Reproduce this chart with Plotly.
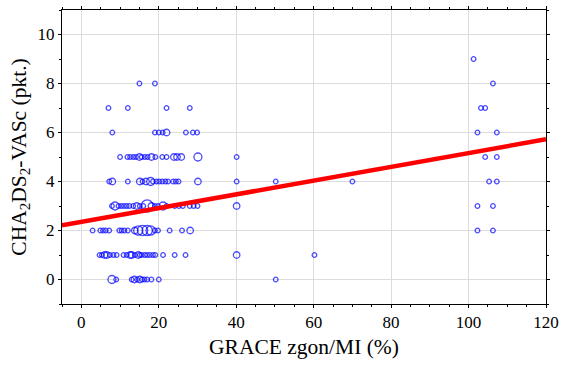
import plotly.graph_objects as go

# GRACE in-hospital death / MI risk (%) vs. CHA2DS2-VASc score, bubble size = number of patients
row0_x = [7.9, 9.0, 13.0, 13.7, 14.4, 15.1, 15.7, 16.3, 17.0, 18.1, 20.0, 50.2]
row0_n = [3, 1, 1, 2, 1, 2, 1, 1, 1, 1, 1, 1]

row1_x = [4.7, 5.3, 6.0, 6.6, 7.4, 8.3, 9.1, 10.9, 11.7, 12.6, 13.0, 13.8, 14.7, 15.1,
          15.6, 16.4, 17.0, 17.7, 18.5, 19.1, 21.1, 24.1, 26.9, 40.1, 60.2]
row1_n = [1, 1, 2, 2, 1, 1, 1, 1, 1, 2, 2, 1, 2, 1,
          1, 1, 1, 1, 1, 1, 1, 1, 1, 2, 1]

row2_x = [2.9, 4.9, 5.6, 6.3, 7.2, 9.8, 10.4, 11.1, 12.0, 13.8, 14.7, 15.8, 17.0, 17.9,
          19.0, 19.8, 22.8, 26.0, 28.1, 102.3, 106.3]
row2_n = [1, 1, 1, 1, 1, 1, 1, 1, 1, 2, 4, 5, 5, 4,
          1, 1, 1, 1, 2, 1, 1]

row3_x = [7.9, 8.7, 9.6, 10.3, 11.0, 11.7, 12.4, 13.4, 14.3, 15.1, 16.0, 17.0, 18.1, 19.0,
          19.8, 21.1, 22.0, 24.1, 25.2, 26.2, 28.0, 29.0, 30.0, 40.1, 102.3, 106.3]
row3_n = [1, 3, 1, 1, 1, 1, 1, 1, 2, 1, 1, 7, 2, 1,
          1, 3, 1, 1, 1, 1, 1, 1, 1, 2, 1, 1]

row4_x = [7.2, 8.0, 12.0, 15.1, 15.8, 16.7, 17.9, 18.5, 19.4, 20.1, 20.9, 21.7, 22.4, 23.7,
          24.4, 25.1, 30.1, 40.1, 50.2, 70.0, 105.3, 107.3]
row4_n = [1, 2, 1, 2, 1, 2, 3, 1, 1, 1, 1, 1, 1, 1,
          1, 1, 2, 1, 1, 1, 1, 1]

row5_x = [10.0, 11.9, 12.6, 13.4, 14.1, 15.0, 15.6, 16.4, 17.1, 18.1, 19.1, 20.9, 22.0, 23.9,
          24.7, 25.8, 30.1, 40.1, 104.3, 107.3]
row5_n = [1, 1, 1, 1, 1, 2, 1, 1, 1, 2, 1, 1, 1, 2,
          2, 2, 3, 1, 1, 1]

row6_x = [8.0, 19.0, 20.0, 21.0, 22.0, 27.0, 28.8, 29.9, 102.3, 107.3]
row6_n = [1, 1, 1, 1, 2, 1, 1, 1, 1, 1]

row7_x = [7.0, 12.0, 22.0, 28.0, 103.2, 104.3]
row7_n = [1, 1, 1, 1, 1, 1]

row8_x = [15.0, 19.0, 106.3]
row8_n = [1, 1, 1]

row9_x = [101.3]
row9_n = [1]

score_rows = [
    (0, row0_x, row0_n), (1, row1_x, row1_n), (2, row2_x, row2_n), (3, row3_x, row3_n),
    (4, row4_x, row4_n), (5, row5_x, row5_n), (6, row6_x, row6_n), (7, row7_x, row7_n),
    (8, row8_x, row8_n), (9, row9_x, row9_n),
]

# tick labels
x_ticks = [0, 20, 40, 60, 80, 100, 120]
y_ticks = [0, 2, 4, 6, 8, 10]

# linear fit: score = a + b * risk
fit_a = 2.35
fit_b = 0.0281
fit_x = [-5, 120]

xs, ys, ns = [], [], []
for score, rx, rn in score_rows:
    xs += rx
    ys += [score] * len(rx)
    ns += rn

sizes = [4.6 * n ** 0.5 for n in ns]

fig = go.Figure()
fig.add_trace(go.Scatter(
    x=xs, y=ys, mode="markers",
    marker=dict(symbol="circle-open", size=sizes, color="#0000ff",
                line=dict(width=1.3, color="#0000ff")),
    hoverinfo="x+y", showlegend=False,
))
fig.add_trace(go.Scatter(
    x=fit_x, y=[fit_a + fit_b * v for v in fit_x], mode="lines",
    line=dict(color="#ff0000", width=4.5), showlegend=False,
))

serif = "Liberation Serif"

axis_common = dict(
    showline=True, linecolor="black", linewidth=1, mirror="ticks",
    ticks="outside", ticklen=3, tickcolor="black",
    showgrid=True, gridcolor="#dcdcdc", gridwidth=1, zeroline=False,
    tickmode="array",
)

fig.update_layout(
    width=565, height=365,
    margin=dict(l=62, r=16, t=6, b=61),
    plot_bgcolor="white", paper_bgcolor="white",
    font=dict(family=serif, size=17, color="black"),
    xaxis=dict(
        range=[-5, 120], tickvals=x_ticks, ticktext=[str(v) for v in x_ticks],
        tickfont=dict(family=serif, size=17, color="black"),
        minor=dict(dtick=5, tick0=0, ticks="outside", ticklen=2, tickcolor="black", showgrid=False),
        title=dict(text="GRACE zgon/MI (%)", font=dict(family=serif, size=21.5), standoff=7),
        **axis_common,
    ),
    yaxis=dict(
        range=[-1, 11], tickvals=y_ticks, ticktext=[str(v) for v in y_ticks],
        tickfont=dict(family=serif, size=17, color="black"),
        minor=dict(dtick=1, tick0=0, ticks="outside", ticklen=2, tickcolor="black", showgrid=False),
        title=dict(text="CHA<sub>2</sub>DS<sub>2</sub>-VASc (pkt.)", font=dict(family=serif, size=21.5),
                   standoff=5),
        **axis_common,
    ),
)

fig.write_html("out.html")
